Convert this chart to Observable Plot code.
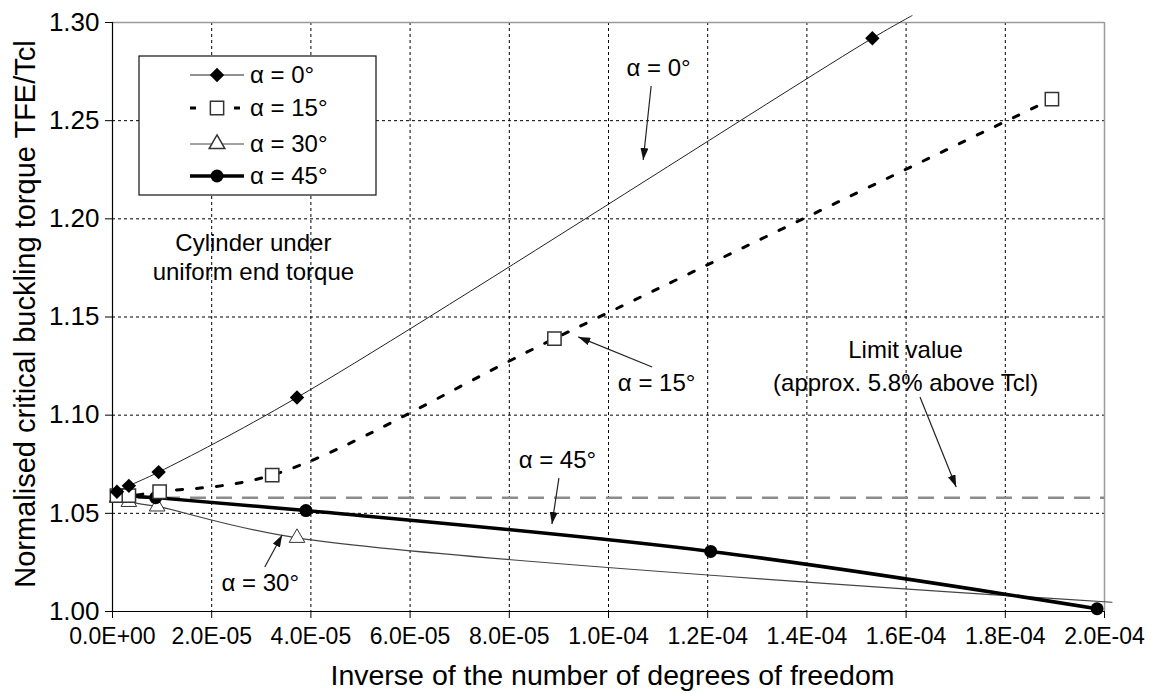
<!DOCTYPE html>
<html><head><meta charset="utf-8">
<script src="https://cdn.jsdelivr.net/npm/d3@7"></script>
<script src="https://cdn.jsdelivr.net/npm/@observablehq/plot@0.6"></script>
<style>
body{margin:0;background:#fff;}
#chart{width:1155px;height:693px;}
svg{font-family:"Liberation Sans",Arial,sans-serif;}
</style></head><body><div id="chart"></div>
<script>
// ---- tick values / labels ----
const xTickValues = [0, 2e-5, 4e-5, 6e-5, 8e-5, 1e-4, 1.2e-4, 1.4e-4, 1.6e-4, 1.8e-4, 2e-4];
const xTickLabels = ["0.0E+00","2.0E-05","4.0E-05","6.0E-05","8.0E-05","1.0E-04","1.2E-04","1.4E-04","1.6E-04","1.8E-04","2.0E-04"];
const yTickValues = [1.00, 1.05, 1.10, 1.15, 1.20, 1.25, 1.30];
const yTickLabels = ["1.00","1.05","1.10","1.15","1.20","1.25","1.30"];

// ---- series (x = inverse DOF, y = TFE/Tcl) ----
const a0X  = [0.9e-6, 3.3e-6, 9.3e-6, 37.2e-6, 153.2e-6];
const a0Y  = [1.061, 1.064, 1.071, 1.109, 1.292];
const a0LineEnd = [161.2e-6, 1.3035];          // visible end of the α=0 line
const a15X = [0.9e-6, 3.3e-6, 9.5e-6, 32.2e-6, 89.1e-6, 189.4e-6];
const a15Y = [1.059, 1.059, 1.061, 1.0695, 1.139, 1.261];
const a30X = [0.9e-6, 3.3e-6, 9.0e-6, 37.2e-6];
const a30Y = [1.058, 1.0558, 1.0535, 1.0375];
const a30LineEnd = [201.5e-6, 1.0047];         // visible end of the α=30 line
const a45X = [0.9e-6, 3.0e-6, 8.7e-6, 39.0e-6, 120.6e-6, 198.5e-6];
const a45Y = [1.0595, 1.059, 1.058, 1.0514, 1.0306, 1.0014];
const limitValue = 1.058;

// ---- legend ----
const legendLabels = ["α = 0°", "α = 15°", "α = 30°", "α = 45°"];

// ---- annotations ----
const annText = ["α = 0°", "α = 15°", "Limit value", "(approx. 5.8% above Tcl)", "α = 45°", "α = 30°", "Cylinder under", "uniform end torque"];
const annX = [110.1e-6, 109.7e-6, 159.9e-6, 159.9e-6, 89.7e-6, 29.8e-6, 28.4e-6, 28.4e-6];
const annY = [1.2766, 1.1161, 1.1329, 1.1161, 1.0769, 1.0143, 1.1874, 1.1727];
const arrX1 = [108.7e-6, 108.9e-6, 162.9e-6, 90.1e-6, 30.8e-6];
const arrY1 = [1.2674, 1.1243, 1.109, 1.0677, 1.0224];
const arrX2 = [107.1e-6, 94.0e-6, 170.2e-6, 88.7e-6, 34.3e-6];
const arrY2 = [1.2297, 1.1396, 1.0632, 1.0443, 1.0387];

const xTitle = "Inverse of the number of degrees of freedom";
const yTitle = "Normalised critical buckling torque TFE/Tcl";

const pts = (xs, ys) => xs.map((x, i) => ({x, y: ys[i]}));
const s0 = pts(a0X, a0Y), s15 = pts(a15X, a15Y), s30 = pts(a30X, a30Y), s45 = pts(a45X, a45Y);
const l0 = [...s0, {x: a0LineEnd[0], y: a0LineEnd[1]}];
const l30 = [...s30, {x: a30LineEnd[0], y: a30LineEnd[1]}];

const gridX = xTickValues.slice(1, -1);
const gridY = yTickValues.slice(1, -1);

const plot = Plot.plot({
  width: 1155, height: 693,
  marginLeft: 112, marginRight: 51, marginTop: 22, marginBottom: 82,
  x: {domain: [0, 2e-4]},
  y: {domain: [1.0, 1.3]},
  marks: [
    Plot.ruleX(gridX, {stroke: "black", strokeWidth: 1, strokeDasharray: "3,3"}),
    Plot.ruleY(gridY, {stroke: "black", strokeWidth: 1, strokeDasharray: "3,3"}),
    Plot.ruleY([1.3], {stroke: "#9a9a9a", strokeWidth: 1.5}),
    Plot.ruleX([2e-4], {stroke: "#9a9a9a", strokeWidth: 1.5}),
    Plot.ruleY([limitValue], {stroke: "#8c8c8c", strokeWidth: 2.5, strokeDasharray: "16,10"}),
    Plot.ruleX([0], {stroke: "black", strokeWidth: 1.2}),
    Plot.ruleY([1.0], {stroke: "black", strokeWidth: 1.2}),
    Plot.axisX(xTickValues, {tickFormat: d => xTickLabels[xTickValues.indexOf(d)], tickSize: 7, tickPadding: 9, fontSize: 23, label: null}),
    Plot.axisY(yTickValues, {tickFormat: d => yTickLabels[yTickValues.indexOf(d)], tickSize: 7, tickPadding: 6, fontSize: 26, label: null}),
    Plot.line(l30, {x: "x", y: "y", stroke: "#444", strokeWidth: 1.2, curve: "catmull-rom"}),
    Plot.line(s45, {x: "x", y: "y", stroke: "black", strokeWidth: 3.5, curve: "catmull-rom"}),
    Plot.line(s15, {x: "x", y: "y", stroke: "black", strokeWidth: 3, strokeDasharray: "6,14", curve: "catmull-rom"}),
    Plot.line(l0, {x: "x", y: "y", stroke: "#222", strokeWidth: 1, curve: "catmull-rom"}),
    Plot.dot(s30, {x: "x", y: "y", symbol: "triangle", r: 5.8, fill: "white", stroke: "#333", strokeWidth: 1}),
    Plot.dot(s45, {x: "x", y: "y", symbol: "circle", r: 6.5, fill: "black", stroke: "none"}),
    Plot.dot(s15, {x: "x", y: "y", symbol: "square", r: 7.5, fill: "white", stroke: "#333", strokeWidth: 1.5}),
    Plot.dot(s0, {x: "x", y: "y", symbol: "diamond2", r: 6.5, fill: "black", stroke: "none"}),
    Plot.text(annText, {x: (d, i) => annX[i], y: (d, i) => annY[i], text: d => d, fontSize: 24, fill: "black"}),
    Plot.text([xTitle], {frameAnchor: "bottom", lineAnchor: "middle", dy: 64, dx: 4, text: d => d, fontSize: 28.5, fill: "black"}),
    Plot.text([yTitle], {frameAnchor: "left", textAnchor: "middle", lineAnchor: "middle", dx: -87, dy: -3, rotate: -90, text: d => d, fontSize: 29, fill: "black"})
  ]
});
document.getElementById("chart").appendChild(plot);

// arrows and legend drawn with the plot's own scales / coordinates
const svg = d3.select(plot);
const sx = plot.scale("x"), sy = plot.scale("y");
const defs = svg.append("defs");
defs.append("marker").attr("id", "ah").attr("viewBox", "0 0 12 8")
  .attr("refX", 12).attr("refY", 4).attr("markerWidth", 12).attr("markerHeight", 8)
  .attr("markerUnits", "userSpaceOnUse").attr("orient", "auto")
  .append("path").attr("d", "M0,0 L12,4 L0,8 Z").attr("fill", "#111");
const ga = svg.append("g");
arrX1.forEach((x1, i) => {
  ga.append("line")
    .attr("x1", sx.apply(x1)).attr("y1", sy.apply(arrY1[i]))
    .attr("x2", sx.apply(arrX2[i])).attr("y2", sy.apply(arrY2[i]))
    .attr("stroke", "#222").attr("stroke-width", 1.2).attr("marker-end", "url(#ah)");
});

// legend
const lg = svg.append("g").attr("transform", "translate(139,56)");
lg.append("rect").attr("width", 237).attr("height", 139).attr("fill", "white").attr("stroke", "#111").attr("stroke-width", 1.2);
const rowY = [19, 52, 88, 120];
const lineStyles = [
  {w: 1, dash: null, color: "#222"},
  {w: 3, dash: "6,38", color: "black"},
  {w: 1, dash: null, color: "#444"},
  {w: 3.5, dash: null, color: "black"}
];
const syms = [d3.symbolDiamond2, d3.symbolSquare, d3.symbolTriangle, d3.symbolCircle];
const symSize = [Math.PI * 6.5 * 6.5, Math.PI * 7.5 * 7.5, Math.PI * 5.8 * 5.8, Math.PI * 6.5 * 6.5];
const symFill = ["black", "white", "white", "black"];
const symStroke = ["none", "#333", "#333", "none"];
legendLabels.forEach((lab, i) => {
  const y = rowY[i];
  const st = lineStyles[i];
  const ln = lg.append("line").attr("x1", 51).attr("x2", 105).attr("y1", y).attr("y2", y)
    .attr("stroke", st.color).attr("stroke-width", st.w);
  if (st.dash) ln.attr("stroke-dasharray", st.dash);
  lg.append("path").attr("d", d3.symbol(syms[i], symSize[i])())
    .attr("transform", `translate(78,${y})`).attr("fill", symFill[i])
    .attr("stroke", symStroke[i]).attr("stroke-width", 1.5);
  lg.append("text").attr("x", 111).attr("y", y).attr("dy", "0.35em")
    .attr("text-anchor", "start").attr("font-size", 24).attr("fill", "black").text(lab);
});
</script></body></html>
